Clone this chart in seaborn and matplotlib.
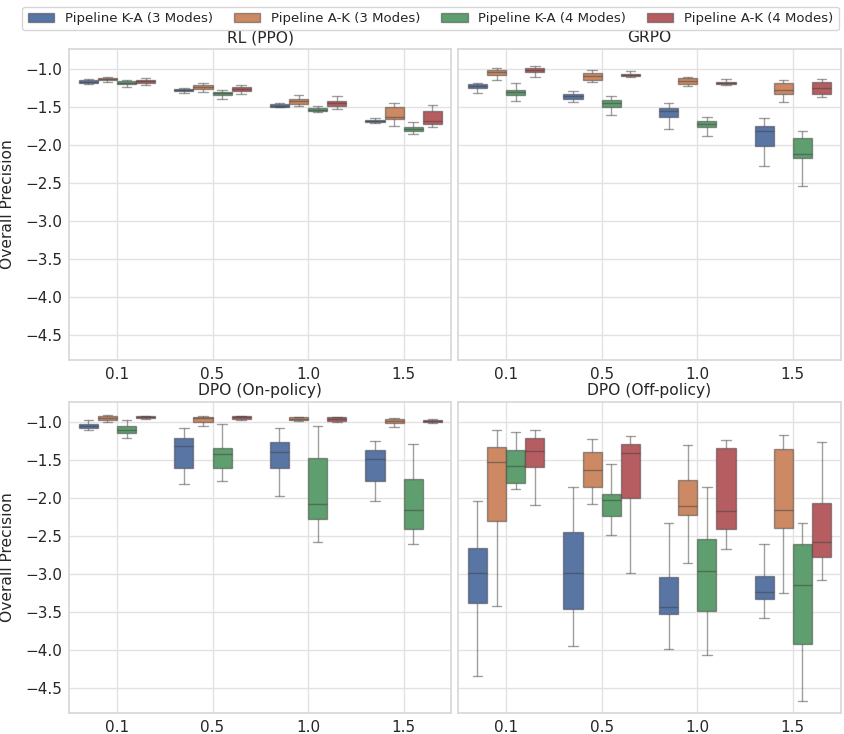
import numpy as np
import pandas as pd
import matplotlib
matplotlib.use("Agg")
import matplotlib.pyplot as plt
import seaborn as sns

# --- Data ---
# each box: (whisker low, q1, median, q3, whisker high), one per beta value
BETAS = ['0.1', '0.5', '1.0', '1.5']
PIPELINES = ['Pipeline K-A (3 Modes)', 'Pipeline A-K (3 Modes)',
             'Pipeline K-A (4 Modes)', 'Pipeline A-K (4 Modes)']
TITLES = ['RL (PPO)', 'GRPO', 'DPO (On-policy)', 'DPO (Off-policy)']

PPO_KA3 = [(-1.193, -1.18, -1.167, -1.15, -1.137), (-1.316, -1.295, -1.28, -1.263, -1.25),
           (-1.505, -1.496, -1.483, -1.465, -1.45), (-1.707, -1.693, -1.68, -1.667, -1.645)]
PPO_AK3 = [(-1.17, -1.15, -1.13, -1.118, -1.10), (-1.30, -1.26, -1.233, -1.215, -1.18),
           (-1.483, -1.465, -1.42, -1.395, -1.34), (-1.746, -1.66, -1.636, -1.505, -1.443)]
PPO_KA4 = [(-1.233, -1.203, -1.18, -1.158, -1.15), (-1.395, -1.34, -1.316, -1.30, -1.276),
           (-1.57, -1.56, -1.54, -1.52, -1.49), (-1.86, -1.82, -1.79, -1.768, -1.693)]
PPO_AK4 = [(-1.215, -1.18, -1.158, -1.14, -1.124), (-1.33, -1.285, -1.26, -1.24, -1.21),
           (-1.53, -1.487, -1.45, -1.417, -1.355), (-1.77, -1.72, -1.68, -1.55, -1.47)]

GRPO_KA3 = [(-1.32, -1.255, -1.224, -1.193, -1.18), (-1.434, -1.395, -1.36, -1.33, -1.29),
            (-1.785, -1.63, -1.56, -1.513, -1.45), (-2.28, -2.02, -1.816, -1.755, -1.64)]
GRPO_AK3 = [(-1.145, -1.08, -1.04, -1.01, -0.987), (-1.167, -1.14, -1.097, -1.058, -1.02),
            (-1.22, -1.193, -1.158, -1.115, -1.10), (-1.434, -1.334, -1.272, -1.18, -1.145)]
GRPO_KA4 = [(-1.42, -1.35, -1.31, -1.276, -1.18), (-1.61, -1.50, -1.443, -1.41, -1.36),
            (-1.886, -1.768, -1.728, -1.68, -1.628), (-2.54, -2.18, -2.115, -1.913, -1.816)]
GRPO_AK4 = [(-1.105, -1.045, -1.013, -0.987, -0.966), (-1.105, -1.092, -1.075, -1.062, -1.03),
            (-1.215, -1.2, -1.184, -1.17, -1.128), (-1.37, -1.33, -1.255, -1.167, -1.137)]

DPO_ON_KA3 = [(-1.107, -1.076, -1.05, -1.027, -0.98), (-1.823, -1.6, -1.316, -1.205, -1.085),
              (-1.97, -1.605, -1.40, -1.263, -1.085), (-2.045, -1.783, -1.493, -1.373, -1.253)]
DPO_ON_AK3 = [(-1.005, -0.98, -0.943, -0.92, -0.91), (-1.05, -1.005, -0.952, -0.933, -0.92),
              (-0.99, -0.98, -0.956, -0.939, -0.935), (-1.063, -1.013, -0.987, -0.965, -0.947)]
DPO_ON_KA4 = [(-1.21, -1.143, -1.103, -1.05, -0.98), (-1.773, -1.613, -1.427, -1.338, -1.03),
              (-2.587, -2.276, -2.08, -1.476, -1.05), (-2.61, -2.41, -2.165, -1.756, -1.29)]
DPO_ON_AK4 = [(-0.955, -0.952, -0.933, -0.92, -0.915), (-0.975, -0.956, -0.939, -0.925, -0.92),
              (-1.0, -0.983, -0.96, -0.94, -0.935), (-1.01, -1.005, -0.987, -0.98, -0.96)]

DPO_OFF_KA3 = [(-4.343, -3.39, -2.987, -2.658, -2.045), (-3.956, -3.458, -2.987, -2.445, -1.853),
               (-3.987, -3.533, -3.44, -3.04, -2.333), (-3.583, -3.33, -3.236, -3.032, -2.61)]
DPO_OFF_AK3 = [(-3.423, -2.30, -1.53, -1.33, -1.103), (-2.08, -1.858, -1.627, -1.396, -1.218),
               (-2.859, -2.232, -2.103, -1.77, -1.303), (-3.253, -2.40, -2.16, -1.36, -1.178)]
DPO_OFF_KA4 = [(-1.885, -1.805, -1.578, -1.37, -1.133), (-2.493, -2.24, -2.023, -1.943, -1.56),
               (-4.076, -3.485, -2.965, -2.547, -1.863), (-4.676, -3.93, -3.152, -2.613, -2.33)]
DPO_OFF_AK4 = [(-2.09, -1.596, -1.378, -1.205, -1.103), (-2.99, -1.996, -1.405, -1.289, -1.19),
               (-2.667, -2.41, -2.17, -1.338, -1.24), (-3.085, -2.783, -2.583, -2.072, -1.267)]

PANELS = [
    [PPO_KA3, PPO_AK3, PPO_KA4, PPO_AK4],
    [GRPO_KA3, GRPO_AK3, GRPO_KA4, GRPO_AK4],
    [DPO_ON_KA3, DPO_ON_AK3, DPO_ON_KA4, DPO_ON_AK4],
    [DPO_OFF_KA3, DPO_OFF_AK3, DPO_OFF_KA4, DPO_OFF_AK4],
]


def panel_frame(series):
    rows = []
    for name, boxes in zip(PIPELINES, series):
        for beta, stats in zip(BETAS, boxes):
            for v in stats:
                rows.append({'beta': beta, 'value': v, 'pipeline': name})
    return pd.DataFrame(rows)


def main():
    sns.set_theme(style="whitegrid", rc={'grid.color': '#e2e2e2',
                                         'axes.edgecolor': '#d8d8d8'})
    fig, axes = plt.subplots(2, 2, figsize=(8.44, 7.34), dpi=100, sharey=True)
    fig.subplots_adjust(left=0.082, right=0.996, top=0.933, bottom=0.029,
                        wspace=0.018, hspace=0.137)

    gray = (0.25, 0.25, 0.25, 0.5)
    line_kw = dict(color=gray)
    handles = labels = None
    for i, (ax, series) in enumerate(zip(axes.flat, PANELS)):
        df = panel_frame(series)
        sns.boxplot(data=df, x='beta', y='value', hue='pipeline', order=BETAS,
                    hue_order=PIPELINES, palette='deep', whis=(0, 100),
                    showfliers=False, linewidth=1, linecolor='#404040',
                    boxprops=dict(edgecolor=gray), whiskerprops=line_kw,
                    capprops=line_kw, medianprops=line_kw,
                    ax=ax, legend=(i == 0))
        if i == 0:
            handles, labels = ax.get_legend_handles_labels()
            ax.get_legend().remove()
        ax.set_title(TITLES[i], fontsize=11.2, pad=5)
        ax.set_xlabel('')
        ax.set_ylabel('Overall Precision' if i % 2 == 0 else '', fontsize=11.2)
        ax.yaxis.set_label_coords(-0.142, 0.5)
        ax.tick_params(axis='both', labelsize=11, length=0)
        ax.tick_params(axis='x', pad=5)
        ax.tick_params(axis='y', pad=5)
        ax.xaxis.grid(True)
        ax.set_xlim(-0.5, 3.5)
        ax.set_ylim(-4.83, -0.74)
        ax.set_yticks([-1.0, -1.5, -2.0, -2.5, -3.0, -3.5, -4.0, -4.5])

    fig.legend(handles, labels, loc='upper center', ncol=4, fontsize=9.5,
               bbox_to_anchor=(0.51, 1.0), frameon=True, handlelength=2,
               columnspacing=1.6)
    fig.savefig('out.png', dpi=100)
    plt.close(fig)


if __name__ == "__main__":
    main()
